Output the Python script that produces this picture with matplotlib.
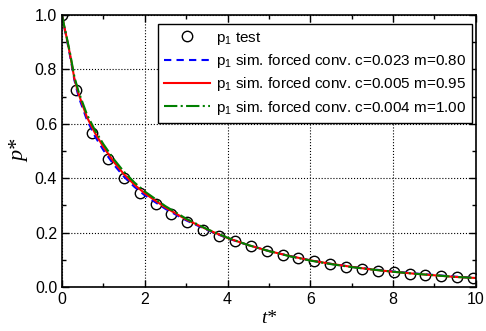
import matplotlib.pyplot as plt

plt.rcParams["font.family"] = ["Liberation Sans", "DejaVu Sans"]
plt.rcParams["mathtext.default"] = "regular"

# test points
t_test = [0.0, 0.34, 0.73, 1.11, 1.49, 1.88, 2.26, 2.64, 3.03, 3.41, 3.80, 4.18, 4.57, 4.95,
          5.33, 5.71, 6.10, 6.48, 6.86, 7.25, 7.63, 8.02, 8.40, 8.78, 9.16, 9.55, 9.93]
p_test = [1.0, 0.724, 0.567, 0.469, 0.401, 0.347, 0.305, 0.267, 0.238, 0.210, 0.188, 0.169, 0.150,
          0.132, 0.119, 0.105, 0.094, 0.085, 0.075, 0.067, 0.059, 0.054, 0.047, 0.043, 0.039,
          0.036, 0.032]

# simulations
t_sim = [0.0, 0.05, 0.1, 0.2, 0.3, 0.4, 0.6, 0.8, 1.0, 1.25, 1.5, 1.75, 2.0, 2.5, 3.0, 3.5,
         4.0, 4.5, 5.0, 5.5, 6.0, 6.5, 7.0, 7.5, 8.0, 8.5, 9.0, 9.5, 10.0]
p_sim_080 = [1.0, 0.958, 0.922, 0.845, 0.760, 0.700, 0.615, 0.553, 0.503, 0.450, 0.405, 0.368,
             0.337, 0.287, 0.245, 0.210, 0.179, 0.154, 0.132, 0.114, 0.098, 0.085, 0.074,
             0.065, 0.057, 0.050, 0.044, 0.038, 0.034]
p_sim_095 = [1.0, 0.960, 0.925, 0.850, 0.765, 0.710, 0.625, 0.565, 0.515, 0.460, 0.414, 0.376,
             0.344, 0.292, 0.248, 0.212, 0.180, 0.154, 0.132, 0.114, 0.098, 0.085, 0.074,
             0.064, 0.056, 0.049, 0.043, 0.037, 0.033]
p_sim_100 = [1.0, 0.962, 0.928, 0.855, 0.772, 0.718, 0.635, 0.575, 0.525, 0.470, 0.423, 0.384,
             0.351, 0.297, 0.251, 0.213, 0.181, 0.154, 0.132, 0.113, 0.097, 0.084, 0.073,
             0.064, 0.056, 0.049, 0.043, 0.037, 0.033]

fig = plt.figure(figsize=(4.86, 3.31), dpi=100)
ax = fig.add_axes([0.1276, 0.133, 0.8514, 0.822])

ax.plot(t_test, p_test, "o", mfc="none", mec="black", ms=7.5, mew=1.0, label="p$_1$ test")
ax.plot(t_sim, p_sim_080, "--", color="#0000ff", lw=1.5, dashes=(3.5, 2.5),
        label="p$_1$ sim. forced conv. c=0.023 m=0.80")
ax.plot(t_sim, p_sim_095, "-", color="#ff0000", lw=1.5,
        label="p$_1$ sim. forced conv. c=0.005 m=0.95")
ax.plot(t_sim, p_sim_100, "-.", color="#008000", lw=1.5,
        label="p$_1$ sim. forced conv. c=0.004 m=1.00")

ax.set_xlim(0, 10)
ax.set_ylim(0, 1.0)
ax.set_xticks([0, 2, 4, 6, 8, 10])
ax.set_yticks([0.0, 0.2, 0.4, 0.6, 0.8, 1.0])
ax.set_xticks([1, 3, 5, 7, 9], minor=True)
ax.set_yticks([0.1, 0.3, 0.5, 0.7, 0.9], minor=True)
ax.tick_params(which="both", direction="in", top=True, right=True, labelsize=11.5, width=1)
ax.tick_params(which="major", length=5)
ax.tick_params(which="minor", length=3)
ax.grid(True, which="major", color="black", ls=":", lw=0.8)
for s in ax.spines.values():
    s.set_linewidth(1.2)

ax.set_xlabel("t*", family="Liberation Serif", style="italic", fontsize=14, labelpad=2)
ax.set_ylabel("p*", family="Liberation Serif", style="italic", fontsize=16, labelpad=4)

leg = ax.legend(loc="upper right", fontsize=11, frameon=True, fancybox=False, framealpha=1,
                edgecolor="black", handlelength=3.0, handletextpad=0.35, numpoints=1,
                borderpad=0.4, labelspacing=0.35, borderaxespad=0.3,
                bbox_to_anchor=(1.002, 0.985))
leg.get_frame().set_linewidth(1.0)

fig.savefig("out.png", dpi=100)
